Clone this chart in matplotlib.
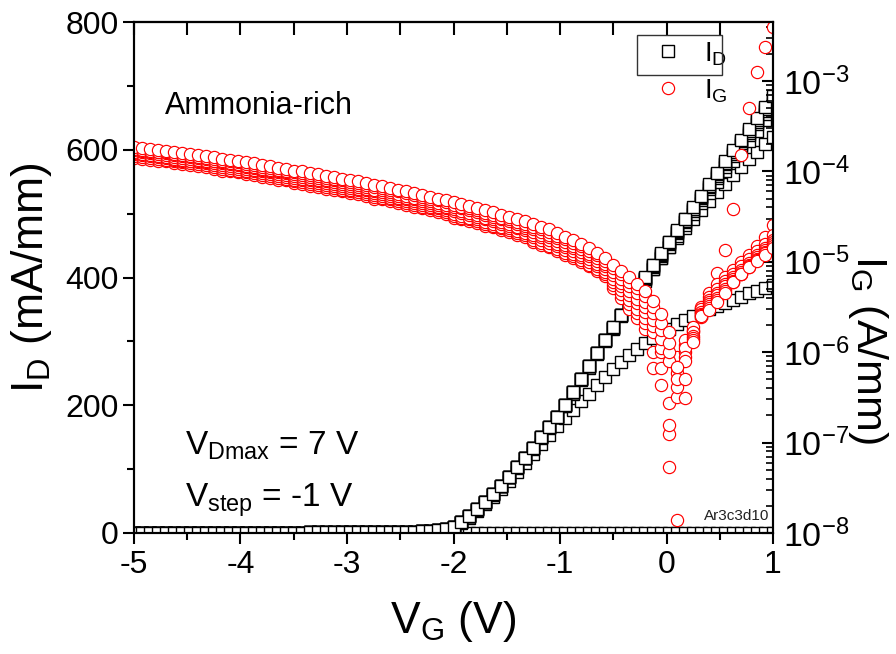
import numpy as np
import matplotlib
matplotlib.use("Agg")
import matplotlib.pyplot as plt
from matplotlib.ticker import MultipleLocator, LogLocator, LogFormatterMathtext, NullFormatter
from matplotlib.patches import Rectangle

plt.rcParams['font.family'] = ['Liberation Sans', 'DejaVu Sans']
plt.rcParams['mathtext.fontset'] = 'custom'
plt.rcParams['mathtext.rm'] = 'Liberation Sans'
plt.rcParams['mathtext.it'] = 'Liberation Sans:italic'
plt.rcParams['mathtext.bf'] = 'Liberation Sans:bold'
plt.rcParams['mathtext.default'] = 'regular'
plt.rcParams['axes.unicode_minus'] = False

# ---------------- data ----------------
VG = [-5.0, -4.925, -4.85, -4.775, -4.7, -4.625, -4.55, -4.475, -4.4, -4.325,
      -4.25, -4.175, -4.1, -4.025, -3.95, -3.875, -3.8, -3.725, -3.65, -3.575,
      -3.5, -3.425, -3.35, -3.275, -3.2, -3.125, -3.05, -2.975, -2.9, -2.825,
      -2.75, -2.675, -2.6, -2.525, -2.45, -2.375, -2.3, -2.225, -2.15, -2.075,
      -2.0, -1.925, -1.85, -1.775, -1.7, -1.625, -1.55, -1.475, -1.4, -1.325,
      -1.25, -1.175, -1.1, -1.025, -0.95, -0.875, -0.8, -0.725, -0.65, -0.575,
      -0.5, -0.425, -0.35, -0.275, -0.2, -0.125, -0.05, 0.025, 0.1, 0.175,
      0.25, 0.325, 0.4, 0.475, 0.55, 0.625, 0.7, 0.775, 0.85, 0.925, 1.0]

VD_LIST = [0, 1, 2, 3, 4, 5, 6, 7]

# shared sub-threshold / rising part of the saturated drain curves (V_G = -5 ... -0.575)
ID_SAT_LOW = [0.5, 0.5, 0.5, 0.5, 0.5, 0.5, 0.5, 0.5, 0.5, 0.5,
              0.6, 0.6, 0.6, 0.6, 0.6, 0.6, 0.6, 0.7, 0.7, 0.7,
              0.7, 0.7, 0.8, 0.8, 0.8, 0.8, 0.9, 0.9, 0.9, 0.9,
              1.0, 1.1, 1.3, 1.5, 1.8, 2.2, 2.8, 3.6, 4.8, 6.8,
              10, 17, 26, 37, 49, 61, 74, 88, 103, 118,
              133, 150, 166, 182, 200, 220, 241, 261, 282, 302]

# I_D (mA/mm) for each V_D
ID_7 = ID_SAT_LOW + [322, 342, 362, 382, 401, 420, 438, 456, 474, 492,
                     510, 528, 546, 564, 582, 599, 616, 633, 650, 667, 684]
ID_6 = ID_SAT_LOW + [322, 342, 362, 382, 400, 419, 437, 455, 473, 491,
                     508, 526, 544, 562, 580, 597, 614, 630, 647, 664, 681]
ID_5 = ID_SAT_LOW + [321, 341, 361, 381, 399, 418, 436, 454, 472, 489,
                     507, 524, 542, 559, 577, 594, 611, 627, 644, 661, 678]
ID_4 = ID_SAT_LOW + [321, 341, 360, 379, 398, 416, 434, 452, 469, 487,
                     504, 522, 539, 556, 573, 590, 607, 623, 640, 656, 672]
ID_3 = ID_SAT_LOW + [320, 339, 358, 377, 395, 413, 431, 448, 465, 482,
                     499, 516, 533, 549, 566, 582, 598, 614, 630, 646, 662]
ID_2 = [0.5, 0.5, 0.5, 0.5, 0.5, 0.5, 0.5, 0.5, 0.5, 0.5,
        0.6, 0.6, 0.6, 0.6, 0.6, 0.6, 0.6, 0.7, 0.7, 0.7,
        0.7, 0.7, 0.8, 0.8, 0.8, 0.8, 0.9, 0.9, 0.9, 0.9,
        1.0, 1.1, 1.3, 1.5, 1.8, 2.2, 2.8, 3.6, 4.7, 6.6,
        10, 17, 26, 36, 48, 60, 73, 87, 102, 117,
        132, 148, 164, 181, 199, 218, 239, 259, 280, 300,
        321, 341, 360, 378, 397, 414, 431, 447, 462, 477,
        491, 506, 520, 534, 547, 560, 573, 585, 597, 609, 620]
ID_1 = [0.4, 0.4, 0.4, 0.4, 0.4, 0.4, 0.4, 0.4, 0.4, 0.4,
        0.5, 0.5, 0.5, 0.5, 0.5, 0.5, 0.5, 0.6, 0.6, 0.6,
        0.6, 0.6, 0.7, 0.7, 0.7, 0.7, 0.8, 0.8, 0.8, 0.8,
        0.9, 1.0, 1.2, 1.4, 1.7, 2.0, 2.6, 3.3, 4.4, 6.2,
        9, 15, 24, 34, 45, 57, 69, 82, 96, 110,
        124, 139, 153, 167, 180, 193, 206, 218, 231, 244,
        256, 267, 278, 288, 297, 305, 313, 320, 327, 333,
        339, 345, 350, 355, 360, 365, 370, 375, 379, 384, 388]
ID_0 = [0.3] * 81

# |I_G| (A/mm), given as log10 values
IG_LOG10_7 = [-3.73, -3.74, -3.75, -3.76, -3.77, -3.79, -3.80, -3.81, -3.82, -3.83,
              -3.84, -3.86, -3.87, -3.88, -3.90, -3.91, -3.93, -3.94, -3.96, -3.97,
              -3.99, -4.00, -4.02, -4.03, -4.05, -4.06, -4.08, -4.10, -4.11, -4.13,
              -4.15, -4.16, -4.18, -4.20, -4.22, -4.24, -4.26, -4.28, -4.30, -4.32,
              -4.34, -4.36, -4.38, -4.40, -4.43, -4.45, -4.48, -4.50, -4.53, -4.55,
              -4.58, -4.61, -4.64, -4.68, -4.72, -4.76, -4.80, -4.85, -4.90, -4.96,
              -5.03, -5.10, -5.17, -5.24, -5.32, -5.43, -5.58, -5.78, -6.16, -6.51,
              -5.89, -5.60, -5.53, -5.45, -5.34, -5.22, -5.14, -5.06, -4.99, -4.92, -4.85]
IG_LOG10_6 = [-3.75, -3.76, -3.77, -3.78, -3.79, -3.81, -3.82, -3.83, -3.84, -3.85,
              -3.86, -3.88, -3.89, -3.90, -3.92, -3.93, -3.95, -3.96, -3.98, -3.99,
              -4.01, -4.02, -4.04, -4.05, -4.07, -4.08, -4.10, -4.12, -4.13, -4.15,
              -4.17, -4.18, -4.20, -4.22, -4.24, -4.26, -4.28, -4.30, -4.32, -4.34,
              -4.37, -4.39, -4.41, -4.43, -4.46, -4.48, -4.51, -4.53, -4.56, -4.58,
              -4.61, -4.64, -4.67, -4.71, -4.75, -4.79, -4.83, -4.88, -4.93, -4.99,
              -5.07, -5.14, -5.22, -5.29, -5.38, -5.50, -5.68, -5.90, -6.30, -6.30,
              -5.87, -5.61, -5.51, -5.42, -5.32, -5.22, -5.14, -5.06, -4.98, -4.90, -4.82]
IG_LOG10_5 = [-3.76, -3.77, -3.78, -3.79, -3.80, -3.82, -3.83, -3.84, -3.85, -3.86,
              -3.88, -3.90, -3.91, -3.92, -3.94, -3.95, -3.97, -3.98, -4.00, -4.01,
              -4.03, -4.04, -4.06, -4.07, -4.09, -4.10, -4.12, -4.14, -4.15, -4.17,
              -4.20, -4.21, -4.23, -4.25, -4.27, -4.29, -4.31, -4.33, -4.35, -4.37,
              -4.39, -4.41, -4.43, -4.45, -4.48, -4.50, -4.53, -4.55, -4.58, -4.60,
              -4.64, -4.67, -4.70, -4.74, -4.78, -4.82, -4.86, -4.91, -4.96, -5.02,
              -5.11, -5.19, -5.27, -5.35, -5.44, -5.57, -5.75, -6.00, -6.38, -6.10,
              -5.84, -5.59, -5.49, -5.40, -5.30, -5.21, -5.13, -5.05, -4.97, -4.89, -4.80]
IG_LOG10_4 = [-3.78, -3.79, -3.80, -3.81, -3.82, -3.84, -3.85, -3.86, -3.87, -3.88,
              -3.89, -3.91, -3.92, -3.93, -3.95, -3.96, -3.98, -3.99, -4.01, -4.02,
              -4.05, -4.06, -4.08, -4.09, -4.11, -4.12, -4.14, -4.16, -4.17, -4.19,
              -4.22, -4.23, -4.25, -4.27, -4.29, -4.31, -4.33, -4.35, -4.37, -4.39,
              -4.42, -4.44, -4.46, -4.48, -4.51, -4.53, -4.56, -4.58, -4.61, -4.63,
              -4.67, -4.70, -4.73, -4.77, -4.81, -4.85, -4.89, -4.94, -4.99, -5.05,
              -5.15, -5.23, -5.32, -5.41, -5.50, -5.64, -5.85, -6.10, -6.50, -6.05,
              -5.82, -5.58, -5.47, -5.37, -5.27, -5.19, -5.11, -5.03, -4.95, -4.87, -4.78]
IG_LOG10_3 = [-3.80, -3.81, -3.82, -3.83, -3.84, -3.86, -3.87, -3.88, -3.89, -3.90,
              -3.91, -3.93, -3.94, -3.95, -3.97, -3.98, -4.00, -4.01, -4.03, -4.04,
              -4.07, -4.08, -4.10, -4.11, -4.13, -4.14, -4.16, -4.18, -4.19, -4.21,
              -4.24, -4.25, -4.27, -4.29, -4.31, -4.33, -4.35, -4.37, -4.39, -4.41,
              -4.44, -4.46, -4.48, -4.50, -4.53, -4.55, -4.58, -4.60, -4.63, -4.65,
              -4.70, -4.73, -4.76, -4.80, -4.84, -4.88, -4.92, -4.97, -5.02, -5.08,
              -5.19, -5.27, -5.37, -5.46, -5.56, -5.71, -5.95, -6.80, -6.16, -5.95,
              -5.78, -5.56, -5.45, -5.34, -5.25, -5.17, -5.09, -5.01, -4.93, -4.85, -4.76]
IG_LOG10_2 = [-3.81, -3.82, -3.83, -3.84, -3.85, -3.87, -3.88, -3.89, -3.90, -3.91,
              -3.93, -3.95, -3.96, -3.97, -3.99, -4.00, -4.02, -4.03, -4.05, -4.06,
              -4.09, -4.10, -4.12, -4.13, -4.15, -4.16, -4.18, -4.20, -4.21, -4.23,
              -4.26, -4.27, -4.29, -4.31, -4.33, -4.35, -4.37, -4.39, -4.41, -4.43,
              -4.47, -4.49, -4.51, -4.53, -4.56, -4.58, -4.61, -4.63, -4.66, -4.68,
              -4.73, -4.76, -4.79, -4.83, -4.87, -4.91, -4.95, -5.00, -5.05, -5.11,
              -5.22, -5.31, -5.42, -5.52, -5.62, -5.78, -6.00, -6.90, -6.23, -5.87,
              -5.72, -5.52, -5.42, -5.30, -5.21, -5.13, -5.05, -4.97, -4.88, -4.80, -4.70]
IG_LOG10_1 = [-3.83, -3.84, -3.85, -3.86, -3.87, -3.89, -3.90, -3.91, -3.92, -3.93,
              -3.95, -3.97, -3.98, -3.99, -4.01, -4.02, -4.04, -4.05, -4.07, -4.08,
              -4.11, -4.12, -4.14, -4.15, -4.17, -4.18, -4.20, -4.22, -4.23, -4.25,
              -4.28, -4.29, -4.31, -4.33, -4.35, -4.37, -4.39, -4.41, -4.43, -4.45,
              -4.49, -4.51, -4.53, -4.55, -4.58, -4.60, -4.63, -4.65, -4.68, -4.70,
              -4.76, -4.79, -4.82, -4.86, -4.90, -4.94, -4.98, -5.03, -5.08, -5.14,
              -5.26, -5.36, -5.47, -5.57, -5.68, -6.00, -6.17, -6.56, -7.86, -6.00,
              -5.75, -5.50, -5.39, -5.25, -5.17, -5.09, -5.00, -4.92, -4.83, -4.72, -4.59]
IG_LOG10_0 = [-3.85, -3.86, -3.87, -3.88, -3.89, -3.91, -3.92, -3.93, -3.94, -3.95,
              -3.97, -3.99, -4.00, -4.01, -4.03, -4.04, -4.06, -4.07, -4.09, -4.10,
              -4.13, -4.14, -4.16, -4.17, -4.19, -4.20, -4.22, -4.24, -4.25, -4.27,
              -4.30, -4.31, -4.33, -4.35, -4.37, -4.39, -4.41, -4.43, -4.45, -4.47,
              -4.51, -4.53, -4.55, -4.57, -4.60, -4.62, -4.65, -4.67, -4.70, -4.72,
              -4.78, -4.81, -4.84, -4.88, -4.92, -4.96, -5.00, -5.05, -5.10, -5.16,
              -5.29, -5.40, -5.52, -5.62, -5.74, -6.17, -6.36, -7.27, -6.05, -5.92,
              -5.76, -5.55, -5.35, -5.12, -4.87, -4.42, -3.82, -3.30, -2.90, -2.62, -2.40]

ID_BY_VD = {0: ID_0, 1: ID_1, 2: ID_2, 3: ID_3, 4: ID_4, 5: ID_5, 6: ID_6, 7: ID_7}
IG_BY_VD = {0: IG_LOG10_0, 1: IG_LOG10_1, 2: IG_LOG10_2, 3: IG_LOG10_3,
            4: IG_LOG10_4, 5: IG_LOG10_5, 6: IG_LOG10_6, 7: IG_LOG10_7}

X_TICKS = [-5, -4, -3, -2, -1, 0, 1]
Y_TICKS = [0, 200, 400, 600, 800]

# ---------------- figure ----------------
W, H = 896, 654
fig = plt.figure(figsize=(W / 100, H / 100), dpi=100)
L, R, T, B = 134, 773, 22, 533
ax = fig.add_axes([L / W, 1 - B / H, (R - L) / W, (B - T) / H])
ax2 = ax.twinx()

vg = np.array(VG)
id_handle = None
for vd in VD_LIST:
    h, = ax.plot(vg, ID_BY_VD[vd], ls='none', marker='s', ms=8.6, mfc='white',
                 mec='black', mew=1.0, label=r'$I_D$')
    id_handle = h

ig_handle = None
for vd in VD_LIST:
    h, = ax2.plot(vg, 10.0 ** np.array(IG_BY_VD[vd]), ls='none', marker='o', ms=8.8,
                  mfc='white', mec='#ff0000', mew=0.85, label=r'$I_G$')
    ig_handle = h

ax.set_xlim(-5, 1)
ax.set_ylim(0, 800)
ax2.set_yscale('log')
ax2.set_ylim(1e-8, 10 ** -2.347)

# ticks
ax.set_xticks(X_TICKS)
ax.xaxis.set_minor_locator(MultipleLocator(0.5))
ax.set_yticks(Y_TICKS)
ax.yaxis.set_minor_locator(MultipleLocator(100))
ax.tick_params(axis='x', which='major', direction='out', length=8, width=1.5,
               labelsize=23, pad=4, top=False)
ax.tick_params(axis='x', which='minor', direction='out', length=5, width=1.5, top=False)
ax.tick_params(axis='y', which='major', direction='out', length=8, width=1.5,
               labelsize=23, pad=3, right=False)
ax.tick_params(axis='y', which='minor', direction='out', length=5, width=1.5, right=False)

sec = ax.secondary_xaxis('top')
sec.xaxis.set_major_locator(MultipleLocator(0.5))
sec.xaxis.set_minor_formatter(NullFormatter())
sec.tick_params(axis='x', which='major', direction='in', length=9, width=1.5, labeltop=False)
sec.tick_params(axis='x', which='minor', length=0)
sec.spines['top'].set_linewidth(1.5)

ax2.yaxis.set_major_locator(LogLocator(base=10, numticks=20))
ax2.yaxis.set_minor_locator(LogLocator(base=10, subs=np.arange(2, 10), numticks=20))
ax2.yaxis.set_major_formatter(LogFormatterMathtext())
ax2.yaxis.set_minor_formatter(NullFormatter())
ax2.tick_params(axis='y', which='major', direction='in', length=8, width=1.5,
                labelsize=24.5, pad=7)
ax2.tick_params(axis='y', which='minor', direction='in', length=5, width=1.2)

for a in (ax, ax2):
    for s in a.spines.values():
        s.set_linewidth(1.5)

# labels
ax.set_xlabel(r'$V_G$ (V)', fontsize=32, labelpad=14)
ax.set_ylabel(r'$I_D$ (mA/mm)', fontsize=32, labelpad=8)
ax2.set_ylabel(r'$I_G$ (A/mm)', fontsize=31, rotation=270)
ax2.yaxis.set_label_coords(1.183, 0.36)

# annotations
ax.text(0.0485, 0.82, 'Ammonia-rich', transform=ax.transAxes, fontsize=22,
        ha='left', va='baseline')
ax.text(0.08, 0.153, r'$V_{Dmax}$ = 7 V', transform=ax.transAxes, fontsize=24,
        ha='left', va='baseline')
ax.text(0.08, 0.051, r'$V_{step}$ = -1 V', transform=ax.transAxes, fontsize=24,
        ha='left', va='baseline')
ax.text(0.995, 0.025, 'Ar3c3d10', transform=ax.transAxes, fontsize=11,
        ha='right', va='baseline', color='#222222')

# legend (Origin style: frame surrounds only the first entry)
leg = ax2.legend([id_handle, ig_handle], [r'$I_D$', r'$I_G$'], loc='upper left',
                 bbox_to_anchor=(660 / W, 1 - 40 / H), bbox_transform=fig.transFigure,
                 frameon=False, fontsize=20, handlelength=0.6, handletextpad=1.0,
                 borderpad=0.0, borderaxespad=0.0, labelspacing=0.35, numpoints=1)
fig.add_artist(Rectangle((637 / W, 1 - 75 / H), 85 / W, 40 / H, transform=fig.transFigure,
                         fill=False, edgecolor='#333333', linewidth=1.0))

fig.savefig('out.png', dpi=100)
